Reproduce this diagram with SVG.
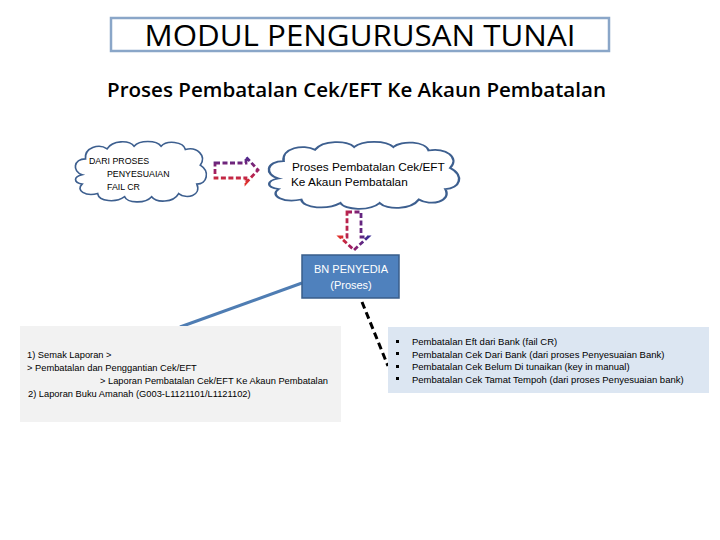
<svg xmlns="http://www.w3.org/2000/svg" width="720" height="540" viewBox="0 0 720 540">
<defs>
<linearGradient id="gR" x1="0" y1="0" x2="0" y2="1"><stop offset="0" stop-color="#4b2a8e"/><stop offset="0.6" stop-color="#a61e5e"/><stop offset="1" stop-color="#e0302a"/></linearGradient>
<linearGradient id="gD" x1="1" y1="0" x2="0" y2="0"><stop offset="0" stop-color="#3b2c94"/><stop offset="0.6" stop-color="#a01c62"/><stop offset="1" stop-color="#e0302a"/></linearGradient>
<path id="cloud" d="M15,55 C0,50 2,30 20,30 C18,12 40,5 52,14 C60,0 85,0 92,10 C100,0 125,0 132,10 C140,0 165,2 168,15 C185,10 200,25 190,40 C205,50 200,70 185,70 C192,88 170,95 158,85 C150,100 125,100 118,90 C108,102 82,100 78,90 C65,100 40,98 38,85 C20,90 5,80 15,70 C2,68 2,58 15,55 Z"/>
</defs>
<style>
.cl{fill:#fff;stroke:#3d5f8f;stroke-width:2.5;vector-effect:non-scaling-stroke}
.t{font-family:"Liberation Sans",Arial,sans-serif;fill:#000}
.s{font-size:9.3px}
.arr{fill:none;stroke-width:2.8;stroke-dasharray:5,2.5}
</style>
<rect width="720" height="540" fill="#fff"/>
<g id="title">
<rect x="111" y="18" width="498" height="33" fill="#fff" stroke="#8aa6c8" stroke-width="2.5"/>
<text x="360" y="46" font-family="'Open Sans','Liberation Sans',sans-serif" font-size="30" text-anchor="middle" textLength="431" lengthAdjust="spacingAndGlyphs">MODUL PENGURUSAN TUNAI</text>
</g>
<g id="subtitle">
<text x="107" y="97" font-family="'Open Sans','Liberation Sans',sans-serif" font-size="19.5" font-weight="600" textLength="499" lengthAdjust="spacingAndGlyphs">Proses Pembatalan Cek/EFT Ke Akaun Pembatalan</text>
</g>
<g id="connectors">
<path class="arr" stroke="url(#gR)" d="M215,163 L246,163 L246,157 L258,170 L246,183 L246,178 L215,178 Z"/>
<path class="arr" stroke="url(#gD)" d="M347,212 L361,212 L361,237 L368,237 L354,250 L340,237 L347,237 Z"/>
<line x1="302" y1="283" x2="180" y2="327" stroke="#4f7db3" stroke-width="3"/>
<line x1="362" y1="302" x2="388" y2="366" stroke="#000" stroke-width="3" stroke-dasharray="7,4"/>
</g>
<g id="cloud1">
<use href="#cloud" class="cl" transform="translate(72,140) scale(0.675,0.63)"/>
<text class="t" font-size="8.8" x="89" y="164">DARI PROSES</text>
<text class="t" font-size="8.8" x="107" y="177">PENYESUAIAN</text>
<text class="t" font-size="8.8" x="107" y="190">FAIL CR</text>
</g>
<g id="cloud2">
<use href="#cloud" class="cl" transform="translate(264,140) scale(0.98,0.7)"/>
<text class="t" x="292" y="171" font-size="11.8">Proses Pembatalan Cek/EFT</text>
<text class="t" x="291" y="186" font-size="11.8">Ke Akaun Pembatalan</text>
</g>
<g id="bn">
<rect x="302" y="255" width="97" height="43" fill="#4f81bd" stroke="#385d8a" stroke-width="1.5"/>
<text class="t" x="351" y="273" font-size="11" text-anchor="middle" style="fill:#fff">BN PENYEDIA</text>
<text class="t" x="351" y="289" font-size="11" text-anchor="middle" style="fill:#fff">(Proses)</text>
</g>
<g id="leftbox">
<rect x="20" y="326" width="321" height="96" fill="#f2f2f2"/>
<text class="t s" x="27" y="358">1) Semak Laporan &gt;</text>
<text class="t s" x="27" y="371">&gt; Pembatalan dan Penggantian Cek/EFT</text>
<text class="t s" x="100" y="384">&gt; Laporan Pembatalan Cek/EFT Ke Akaun Pembatalan</text>
<text class="t s" x="28" y="397">2) Laporan Buku Amanah (G003-L1121101/L1121102)</text>
</g>
<g id="rightbox">
<rect x="388" y="327" width="321" height="66" fill="#dce6f2"/>
<rect x="396" y="340" width="3" height="3" fill="#000"/>
<rect x="396" y="352" width="3" height="3" fill="#000"/>
<rect x="396" y="365" width="3" height="3" fill="#000"/>
<rect x="396" y="377" width="3" height="3" fill="#000"/>
<text class="t s" x="412" y="345" style="font-size:9.5px">Pembatalan Eft dari Bank (fail CR)</text>
<text class="t s" x="412" y="357.5" style="font-size:9.5px">Pembatalan Cek Dari Bank (dari proses Penyesuaian Bank)</text>
<text class="t s" x="412" y="370" style="font-size:9.5px">Pembatalan Cek Belum Di tunaikan (key in manual)</text>
<text class="t s" x="412" y="382.5" style="font-size:9.5px">Pembatalan Cek Tamat Tempoh (dari proses Penyesuaian bank)</text>
</g>
</svg>
